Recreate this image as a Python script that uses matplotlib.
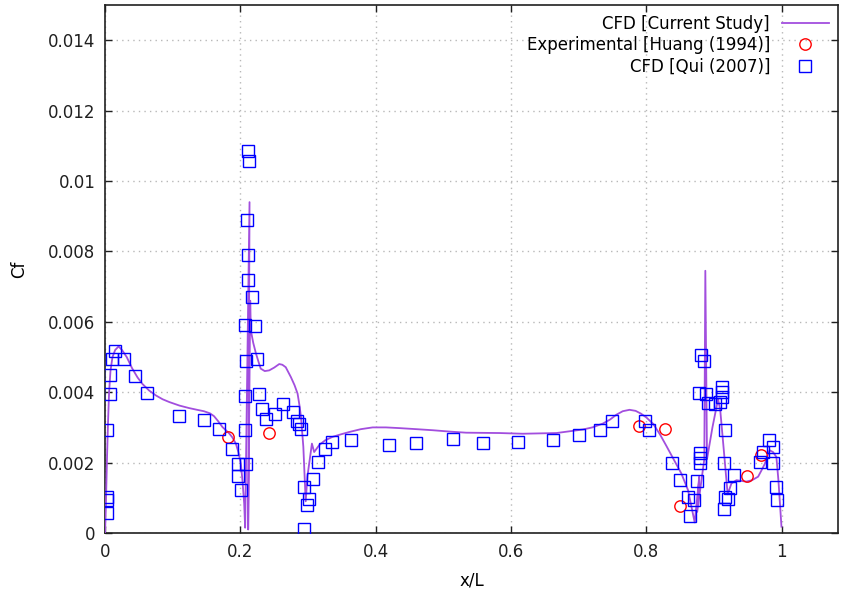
import matplotlib
matplotlib.use("Agg")
import matplotlib.pyplot as plt
from matplotlib.ticker import FuncFormatter

# CFD [Current Study] - curva continua
cfd_x = [0.0, 0.001, 0.002, 0.003, 0.0045, 0.006, 0.008, 0.011, 0.015, 0.02,
         0.025, 0.032, 0.04, 0.048, 0.055, 0.065, 0.075, 0.085, 0.095, 0.11,
         0.124, 0.136, 0.146, 0.155, 0.161, 0.167, 0.1735, 0.1785, 0.1834, 0.188,
         0.1933, 0.197, 0.2007, 0.203, 0.2056, 0.207, 0.2135, 0.2115, 0.2145, 0.2155,
         0.219, 0.223, 0.227, 0.230, 0.236, 0.2426, 0.25, 0.2574, 0.262, 0.267,
         0.2746, 0.28, 0.2845, 0.2875, 0.2895, 0.293, 0.2965, 0.299, 0.3057, 0.309,
         0.3166, 0.325, 0.336, 0.348, 0.361, 0.378, 0.3955, 0.415, 0.435, 0.46,
         0.484, 0.51, 0.5336, 0.583, 0.617, 0.667, 0.706, 0.72, 0.7357, 0.746,
         0.7555, 0.765, 0.775, 0.784, 0.792, 0.80, 0.81, 0.82, 0.829, 0.84,
         0.8516, 0.8614, 0.8713, 0.878, 0.875, 0.8855, 0.887, 0.8895, 0.8975, 0.9058,
         0.909, 0.915, 0.92, 0.9256, 0.933, 0.94, 0.9477, 0.956, 0.965, 0.97,
         0.975, 0.979, 0.982, 0.987, 0.992, 0.995, 0.9995]
cfd_y = [0.0, 0.0006, 0.0014, 0.0022, 0.0032, 0.0040, 0.0046, 0.0050, 0.0052, 0.0053,
         0.0052, 0.0050, 0.00468, 0.00442, 0.00424, 0.00405, 0.00391, 0.0038, 0.00372, 0.00362,
         0.00355, 0.0035, 0.00346, 0.0034, 0.00332, 0.00318, 0.00301, 0.00292, 0.00283, 0.00272,
         0.00254, 0.0023, 0.00197, 0.0015, 0.00084, 0.00015, 0.0094, 0.0001, 0.0066, 0.00575,
         0.0054, 0.0051, 0.00485, 0.00467, 0.0046, 0.00462, 0.0047, 0.0048, 0.00478, 0.00471,
         0.00443, 0.0042, 0.00396, 0.0036, 0.0033, 0.00245, 0.0009, 0.0016, 0.00254, 0.0023,
         0.0025, 0.00263, 0.00273, 0.0028, 0.00287, 0.00295, 0.0030, 0.003, 0.00298, 0.00295,
         0.00292, 0.00288, 0.00285, 0.00284, 0.00282, 0.00284, 0.00294, 0.003, 0.00311, 0.00322,
         0.00336, 0.00346, 0.0035, 0.00347, 0.00339, 0.00328, 0.0031, 0.0028, 0.00249, 0.0021,
         0.00169, 0.00122, 0.0003, 0.0016, 0.0006, 0.0021, 0.00745, 0.0021, 0.0030, 0.0038,
         0.0035, 0.0022, 0.0011, 0.00141, 0.0015, 0.00148, 0.00146, 0.0015, 0.0016, 0.00178,
         0.00197, 0.0022, 0.00235, 0.0023, 0.00216, 0.0015, 0.00018]

# Experimental [Huang (1994)]
huang_x = [0.181, 0.2416, 0.789, 0.828, 0.849, 0.949, 0.970]
huang_y = [0.00273, 0.00283, 0.00303, 0.00295, 0.00077, 0.00162, 0.00223]

# CFD [Qui (2007)]
qui_x = [0.0025, 0.0025, 0.0025, 0.0035, 0.007, 0.007, 0.0108, 0.0148, 0.028, 0.045,
         0.062, 0.11, 0.146, 0.169, 0.187, 0.196, 0.197, 0.201, 0.208, 0.207,
         0.207, 0.209, 0.2066, 0.211, 0.211, 0.2096, 0.2115, 0.213, 0.217, 0.222,
         0.224, 0.227, 0.2318, 0.2377, 0.2515, 0.263, 0.278, 0.283, 0.287, 0.2895,
         0.2934, 0.294, 0.298, 0.302, 0.308, 0.314, 0.325, 0.335, 0.3635, 0.419,
         0.4596, 0.5148, 0.559, 0.61, 0.6617, 0.70, 0.731, 0.749, 0.798, 0.804,
         0.8378, 0.85, 0.861, 0.865, 0.870, 0.874, 0.879, 0.879, 0.879, 0.8777,
         0.8802, 0.8846, 0.8886, 0.891, 0.901, 0.908, 0.911, 0.912, 0.912, 0.9167,
         0.9147, 0.930, 0.923, 0.9206, 0.9157, 0.9147, 0.9675, 0.9724, 0.981, 0.987,
         0.987, 0.992, 0.9935]
qui_y = [0.00058, 0.00095, 0.00103, 0.00294, 0.00396, 0.0045, 0.00495, 0.00517, 0.00495, 0.00445,
         0.00399, 0.00332, 0.0032, 0.00295, 0.0024, 0.00197, 0.00162, 0.00122, 0.00197, 0.00294,
         0.0039, 0.0049, 0.00592, 0.0072, 0.0079, 0.00889, 0.01085, 0.01057, 0.0067, 0.00587,
         0.00495, 0.00395, 0.00353, 0.00325, 0.00339, 0.00367, 0.00344, 0.00318, 0.00311, 0.00295,
         0.00012, 0.00131, 0.00079, 0.00096, 0.00153, 0.00202, 0.0024, 0.00259, 0.00264, 0.00251,
         0.00256, 0.00267, 0.00256, 0.00259, 0.00264, 0.00278, 0.00294, 0.00317, 0.00317, 0.00294,
         0.0020, 0.0015, 0.00103, 0.00049, 0.00095, 0.00148, 0.00227, 0.00212, 0.00198, 0.00399,
         0.00506, 0.0049, 0.00396, 0.00368, 0.00366, 0.00372, 0.00386, 0.004, 0.00415, 0.00294,
         0.002, 0.00166, 0.00127, 0.00098, 0.00103, 0.00068, 0.00202, 0.0023, 0.00264, 0.00245,
         0.002, 0.0013, 0.00095]

x_ticks = [0, 0.2, 0.4, 0.6, 0.8, 1.0]
y_ticks = [0, 0.002, 0.004, 0.006, 0.008, 0.01, 0.012, 0.014]

plt.rcParams['font.family'] = ['DejaVu Sans']

fig = plt.figure(figsize=(8.41, 5.98), dpi=100)
ax = fig.add_axes([0.1249, 0.1087, 0.8715, 0.8829])

ax.plot(cfd_x, cfd_y, color='#a24ede', lw=1.3, label='CFD [Current Study]', zorder=3)
ax.plot(huang_x, huang_y, ls='none', marker='o', ms=8.2, mfc='none', mec='#ff0000',
        mew=1.0, label='Experimental [Huang (1994)]', zorder=4)
ax.plot(qui_x, qui_y, ls='none', marker='s', ms=8.6, mfc='none', mec='#0000ff',
        mew=1.0, label='CFD [Qui (2007)]', zorder=5)

ax.set_xlim(0, 1.083)
ax.set_ylim(0, 0.015)
ax.set_xticks(x_ticks)
ax.set_yticks(y_ticks)
ax.xaxis.set_major_formatter(FuncFormatter(lambda v, p: '%g' % v))
ax.yaxis.set_major_formatter(FuncFormatter(lambda v, p: '%g' % round(v, 4)))
ax.tick_params(direction='in', top=True, right=True, length=5, width=1,
               labelsize=12, colors='#202020', pad=7)
for s in ax.spines.values():
    s.set_linewidth(1.2)
    s.set_color('#202020')

ax.grid(True, color='#b8b8b8', linestyle=(0, (1, 3)), lw=1)

ax.set_xlabel('x/L', fontsize=12, labelpad=8)
ax.set_ylabel('Cf', fontsize=12, labelpad=14)

leg = ax.legend(loc='upper right', bbox_to_anchor=(1.004, 1.004), frameon=False,
                markerfirst=False, fontsize=12, handlelength=2.85,
                handletextpad=0.7, labelspacing=0.22, borderaxespad=0.3)

fig.savefig('out.png', dpi=100)
